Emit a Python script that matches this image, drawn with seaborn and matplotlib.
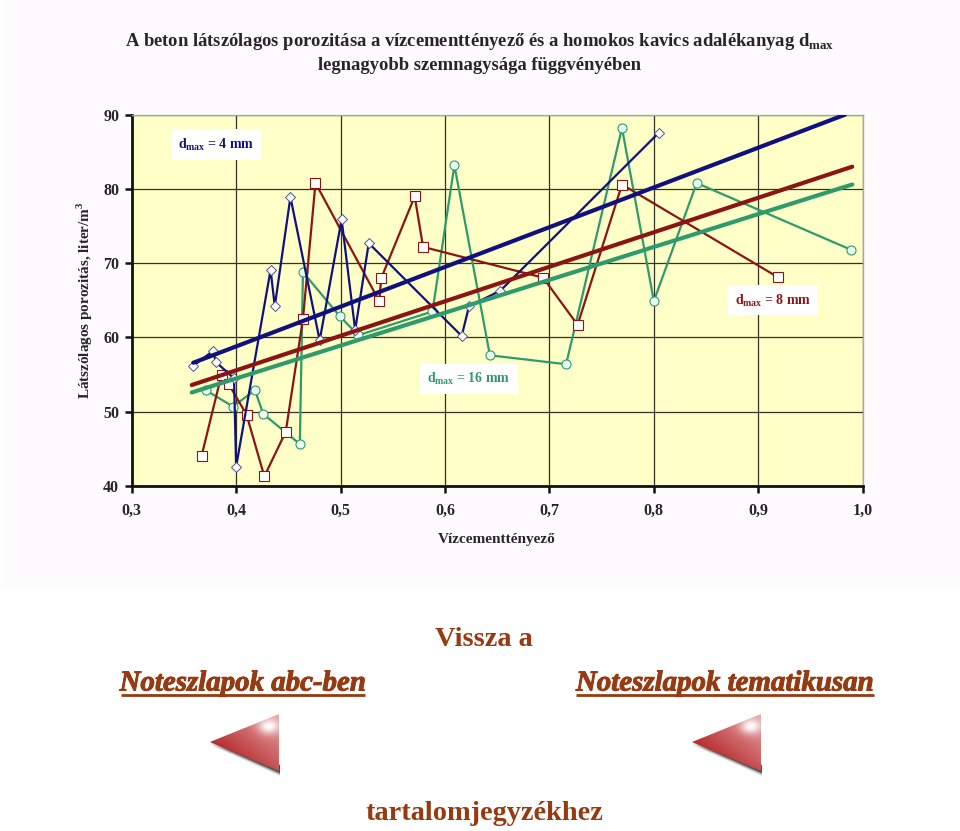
import matplotlib
matplotlib.use('Agg')
import matplotlib.patheffects as pe
import matplotlib.pyplot as plt
import numpy as np
import seaborn as sns
from matplotlib.patches import Polygon, Rectangle

# Adatok
x_4mm = [0.359, 0.378, 0.3805, 0.398, 0.400, 0.433, 0.437, 0.452, 0.480, 0.501, 0.514, 0.527, 0.616, 0.623, 0.653, 0.805]
y_4mm = [56.2, 58.2, 56.7, 54.5, 42.6, 69.1, 64.2, 78.9, 59.6, 75.9, 61.0, 72.7, 60.2, 64.2, 66.3, 87.6]

x_8mm = [0.367, 0.386, 0.393, 0.410, 0.427, 0.4475, 0.464, 0.476, 0.537, 0.539, 0.571, 0.579, 0.694, 0.727, 0.7695, 0.919]
y_8mm = [44.1, 55.0, 53.7, 49.6, 41.3, 47.3, 62.5, 80.8, 64.9, 68.0, 79.0, 72.2, 68.05, 61.7, 80.6, 68.1]

x_16mm = [0.371, 0.397, 0.418, 0.426, 0.461, 0.464, 0.499, 0.517, 0.588, 0.609, 0.643, 0.716, 0.7695, 0.800, 0.841, 0.989]
y_16mm = [52.9, 50.7, 52.9, 49.7, 45.65, 68.8, 62.9, 60.3, 63.5, 83.2, 57.6, 56.4, 88.2, 64.9, 80.8, 71.8]

trend_x_4mm = [0.359, 0.983]
trend_y_4mm = [56.6, 90.0]
trend_x_8mm = [0.3575, 0.990]
trend_y_8mm = [53.6, 83.0]
trend_x_16mm = [0.3575, 0.990]
trend_y_16mm = [52.6, 80.6]

x_ticks = [0.3, 0.4, 0.5, 0.6, 0.7, 0.8, 0.9, 1.0]
x_tick_labels = ['0,3', '0,4', '0,5', '0,6', '0,7', '0,8', '0,9', '1,0']
y_ticks = [40, 50, 60, 70, 80, 90]

KEK = '#10107f'
PIROS = '#8c1414'
ZOLD = '#2f9a6c'
BARNA = '#963a12'
SOTET = '#262626'
W, H = 960, 831

sns.set_style('white')
plt.rcParams['font.family'] = ['Liberation Serif', 'DejaVu Serif']
plt.rcParams['mathtext.fontset'] = 'custom'
plt.rcParams['mathtext.bf'] = 'Liberation Serif:bold'
plt.rcParams['mathtext.rm'] = 'Liberation Serif:bold'

fig = plt.figure(figsize=(W / 100, H / 100), dpi=100, facecolor='white')

# Háttér réteg pixel koordinátákkal
bg = fig.add_axes([0, 0, 1, 1], zorder=0)
bg.set_xlim(0, W)
bg.set_ylim(H, 0)
bg.axis('off')
bg.add_patch(Rectangle((3, 0), W - 3, 587, color='#fdfbfe', lw=0))

# A diagram
ax = fig.add_axes([131.7 / W, (H - 486) / H, 731 / W, 371.3 / H], zorder=1)
ax.set_facecolor('#ffffc8')

for tx, ty, szin in [(trend_x_4mm, trend_y_4mm, KEK), (trend_x_8mm, trend_y_8mm, PIROS), (trend_x_16mm, trend_y_16mm, ZOLD)]:
    sns.lineplot(x=tx, y=ty, color=szin, lw=3, sort=False, estimator=None, ax=ax, zorder=4)

sns.lineplot(x=x_16mm, y=y_16mm, color=ZOLD, lw=1.6, marker='o', ms=6.5, mfc='#eafff2', mec=ZOLD, mew=0.8,
             sort=False, estimator=None, ax=ax, zorder=3)
sns.lineplot(x=x_8mm, y=y_8mm, color=PIROS, lw=1.6, marker='s', ms=6.5, mfc='white', mec=PIROS, mew=0.8,
             sort=False, estimator=None, ax=ax, zorder=3)
sns.lineplot(x=x_4mm, y=y_4mm, color=KEK, lw=1.6, marker='D', ms=5.2, mfc='white', mec='#50508f', mew=0.7,
             sort=False, estimator=None, ax=ax, zorder=3)

ax.set_xlim(0.3, 1.0)
ax.set_ylim(40, 90)
ax.set_xticks(x_ticks)
ax.set_xticklabels(x_tick_labels)
ax.set_yticks(y_ticks)
ax.grid(True, color='#33332a', lw=0.9)
ax.set_axisbelow(True)
ax.tick_params(axis='both', length=5, width=1.8, color='#111111', labelsize=11.5, labelcolor=SOTET,
               bottom=True, left=True)
ax.tick_params(axis='x', pad=7)
ax.tick_params(axis='y', pad=4)
for lab in ax.get_xticklabels() + ax.get_yticklabels():
    lab.set_fontweight('bold')
for oldal in ['left', 'bottom']:
    ax.spines[oldal].set_color('#111111')
    ax.spines[oldal].set_linewidth(2.0)
for oldal in ['top', 'right']:
    ax.spines[oldal].set_color('#a8a8a0')
    ax.spines[oldal].set_linewidth(1.0)
ax.set_xlabel('Vízcementtényező', fontsize=11, fontweight='bold', color=SOTET, va='center')
ax.xaxis.set_label_coords(0.499, -0.145)
ax.set_ylabel('Látszólagos porozitás, liter/m$^{\\mathbf{3}}$', fontsize=10.9, fontweight='bold', color=SOTET, va='center')
ax.yaxis.set_label_coords(-0.064, 0.5)


def cimke(x, y, szoveg, szin):
    ax.text(x, y, szoveg, color=szin, fontsize=10, fontweight='bold', ha='center', va='center', zorder=6,
            bbox=dict(facecolor='white', edgecolor='none', pad=5))


cimke(0.3807, 86.0, 'd$_{\\mathbf{max}}$ = 4 mm', KEK)
cimke(0.914, 65.0, 'd$_{\\mathbf{max}}$ = 8 mm', PIROS)
cimke(0.623, 54.4, 'd$_{\\mathbf{max}}$ = 16 mm', ZOLD)

# Cím
bg.text(480, 41, 'A beton látszólagos porozitása a vízcementtényező és a homokos kavics adalékanyag d$_{\\mathbf{max}}$',
        ha='center', va='center', fontsize=13.4, fontweight='bold', color=SOTET)
bg.text(480, 65, 'legnagyobb szemnagysága függvényében', ha='center', va='center', fontsize=13.4,
        fontweight='bold', color=SOTET)

# Alsó navigáció
bg.text(484, 639, 'Vissza a', ha='center', va='center', fontsize=20.4, fontweight='bold', color=BARNA)
bg.text(484, 814, 'tartalomjegyzékhez', ha='center', va='center', fontsize=20.4, fontweight='bold', color=BARNA)
for bal, jobb, szoveg in [(121, 365, 'Noteszlapok abc-ben'), (576, 874, 'Noteszlapok tematikusan')]:
    bg.text((bal + jobb) / 2, 683, szoveg, ha='center', va='center', fontsize=20.8, fontweight='bold',
            style='italic', color=BARNA, path_effects=[pe.withStroke(linewidth=0.7, foreground=BARNA)])
    bg.plot([bal, jobb], [695, 695], color=BARNA, lw=2.0, solid_capstyle='butt')


# Nyilak színátmenettel
def nyil(bal):
    jobb, felso, also, csucs = bal + 69, 714, 773, 742
    for d, a in [(3, 0.12), (2, 0.2), (1, 0.35), (0, 0.6)]:
        bg.add_patch(Polygon([(bal, csucs + d), (jobb + 1, also + d), (jobb + 1, also - 8)], color='#302828', lw=0, alpha=a))
    yy, xx = np.mgrid[0:1:60j, 0:1:70j]
    t = np.clip(0.05 + xx * 0.5 + (1 - yy) * 0.55 - 0.2, 0, 1)[..., None]
    kep = np.array([0.68, 0.08, 0.09]) * (1 - t) + np.array([0.93, 0.72, 0.72]) * t
    folt = np.exp(-(((xx - 0.86) / 0.15) ** 2 + ((yy - 0.2) / 0.13) ** 2))[..., None]
    kep = kep * (1 - folt) + folt
    im = bg.imshow(kep, extent=(bal, jobb, also, felso), aspect='auto', zorder=2)
    im.set_clip_path(Polygon([(bal, csucs), (jobb, felso), (jobb, also - 2)], transform=bg.transData))


nyil(210)
nyil(692)
bg.set_xlim(0, W)
bg.set_ylim(H, 0)

plt.savefig('out.png', dpi=100)
plt.close()
